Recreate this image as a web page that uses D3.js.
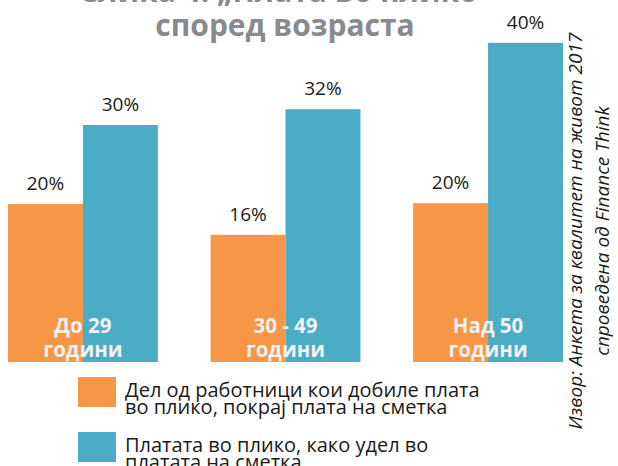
<!DOCTYPE html>
<html>
<head>
<meta charset="utf-8">
<script src="https://cdn.jsdelivr.net/npm/d3@7"></script>
<style>
  body { margin: 0; background: #fff; }
  svg { font-family: "Open Sans", "Noto Sans", sans-serif; }
</style>
</head>
<body>
<div id="chart"></div>
<script>
const categories = [["До 29", "години"], ["30 - 49", "години"], ["Над 50", "години"]];
const seriesNames = [
  ["Дел од работници кои добиле плата", "во плико, покрај плата на сметка"],
  ["Платата во плико, како удел во", "платата на сметка"]
];
const envelopeOnly = [20.0, 16.1, 20.1];
const shareOfWage = [30.0, 32.0, 40.4];
const colors = ["#F79646", "#4BACC6"];

const w = 618, h = 466;
const baseY = 362;

const svg = d3.select("#chart").append("svg")
  .attr("width", w).attr("height", h);

const x0 = d3.scaleBand()
  .domain(d3.range(categories.length))
  .range([8, 563])
  .paddingInner(0.26)
  .paddingOuter(0);

const x1 = d3.scaleBand()
  .domain([0, 1])
  .range([0, x0.bandwidth()]);

const y = d3.scaleLinear()
  .domain([0, 40])
  .range([baseY, baseY - 316]);

const data = categories.map((c, i) => ({ i, vals: [envelopeOnly[i], shareOfWage[i]] }));

const groups = svg.selectAll("g.grp")
  .data(data)
  .enter().append("g")
  .attr("class", "grp")
  .attr("transform", d => `translate(${x0(d.i)},0)`);

groups.selectAll("rect")
  .data(d => d.vals.map((v, s) => ({ v, s })))
  .enter().append("rect")
  .attr("x", d => x1(d.s))
  .attr("y", d => y(d.v))
  .attr("width", x1.bandwidth())
  .attr("height", d => baseY - y(d.v))
  .attr("fill", d => colors[d.s]);

groups.selectAll("text.val")
  .data(d => d.vals.map((v, s) => ({ v, s })))
  .enter().append("text")
  .attr("class", "val")
  .attr("x", d => x1(d.s) + x1.bandwidth() / 2)
  .attr("y", d => y(d.v) - 14)
  .attr("text-anchor", "middle")
  .attr("font-size", 19)
  .attr("fill", "#1a1a1a")
  .text(d => Math.round(d.v) + "%");

// category labels inside bars
groups.append("text")
  .attr("x", x0.bandwidth() / 2)
  .attr("y", 333)
  .attr("text-anchor", "middle")
  .attr("font-size", 20.5)
  .attr("font-weight", "bold")
  .attr("fill", "#f2f2f2")
  .selectAll("tspan")
  .data(d => categories[d.i])
  .enter().append("tspan")
  .attr("x", x0.bandwidth() / 2)
  .attr("dy", (d, k) => k === 0 ? 0 : 24)
  .text(d => d);

// title
const title = svg.append("text")
  .attr("text-anchor", "middle")
  .attr("font-weight", "bold")
  .attr("font-size", 30)
  .attr("fill", "#898a8e");
title.append("tspan").attr("x", 285).attr("y", 2).text("Слика 4: „Плата во плико“");
title.append("tspan").attr("x", 285).attr("y", 36).text("според возраста");

// legend
const legend = svg.selectAll("g.leg")
  .data(seriesNames)
  .enter().append("g")
  .attr("class", "leg")
  .attr("transform", (d, i) => `translate(78,${377 + i * 55})`);

legend.append("rect")
  .attr("width", 38).attr("height", 30)
  .attr("fill", (d, i) => colors[i]);

legend.append("text")
  .attr("font-size", 20)
  .attr("fill", "#1a1a1a")
  .selectAll("tspan")
  .data(d => d)
  .enter().append("tspan")
  .attr("x", 47)
  .attr("y", (d, k) => 20 + k * 16.5)
  .text(d => d);

// source, rotated
const src = svg.append("text")
  .attr("transform", "rotate(-90)")
  .attr("text-anchor", "middle")
  .attr("font-size", 19)
  .attr("font-style", "italic")
  .attr("fill", "#1a1a1a");
src.append("tspan").attr("x", -231).attr("y", 582).text("Извор: Анкета за квалитет на живот 2017");
src.append("tspan").attr("x", -231).attr("y", 609).text("спроведена од Finance Think");
</script>
</body>
</html>
